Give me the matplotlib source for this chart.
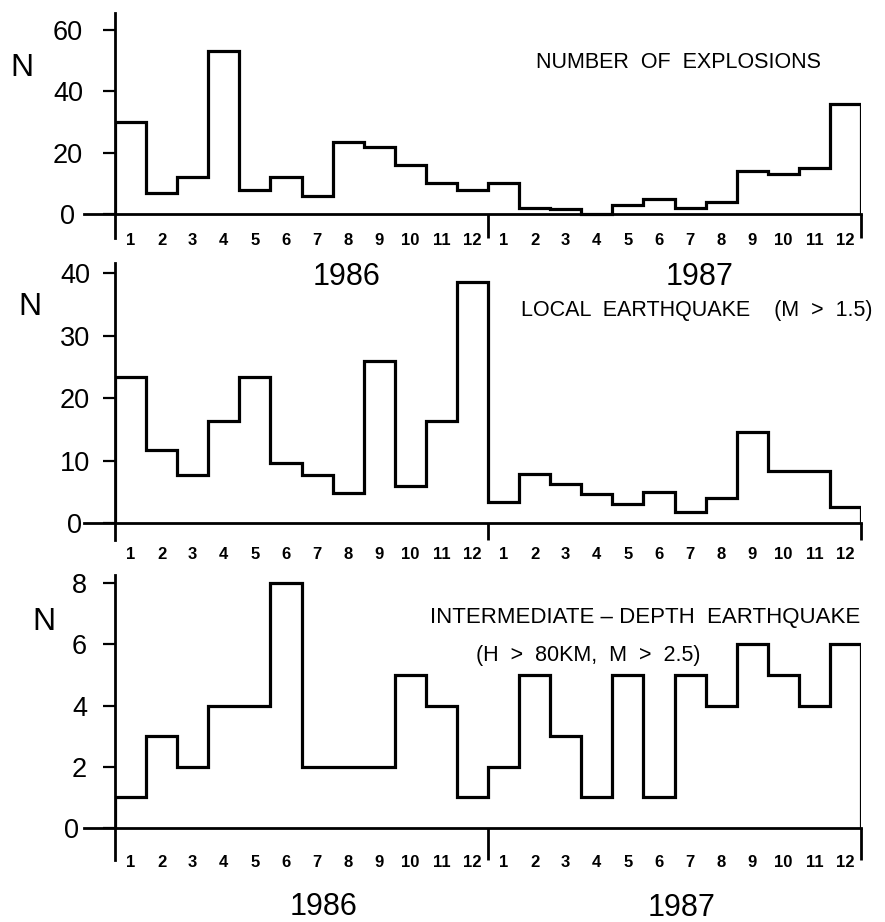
import numpy as np
import matplotlib
matplotlib.use("Agg")
import matplotlib.pyplot as plt
from matplotlib.transforms import ScaledTranslation

plt.rcParams['font.family'] = ['Liberation Sans', 'DejaVu Sans']

# data: monthly counts, Jan 1986 .. Dec 1987
month_labels = [str(m) for m in range(1, 13)] * 2
explosions = [30, 7, 12, 53, 8, 12, 6, 23.5, 22, 16, 10, 8,
              10, 2, 1.5, 0, 3, 5, 2, 4, 14, 13, 15, 36]
local_eq = [23.4, 11.7, 7.7, 16.3, 23.4, 9.6, 7.7, 4.8, 26, 5.9, 16.3, 38.6,
            3.3, 7.8, 6.3, 4.6, 3, 5, 1.7, 4, 14.6, 8.4, 8.3, 2.5]
deep_eq = [1, 3, 2, 4, 4, 8, 2, 2, 2, 5, 4, 1,
           2, 5, 3, 1, 5, 1, 5, 4, 6, 5, 4, 6]

W, H = 885, 922
fig = plt.figure(figsize=(W / 100, H / 100), dpi=100)

def px(x, y):
    return x / W, 1 - y / H

# panel settings (pixel layout)
panels = [
    dict(vals=explosions, top=13, bot=238, ylim=(-7.8, 65.5), yt=[0, 20, 40, 60],
         pad=14, lab_y=240, N=(22, 68)),
    dict(vals=local_eq, top=263, bot=540, ylim=(-2.72, 41.6), yt=[0, 10, 20, 30, 40],
         pad=9, lab_y=554, N=(30, 307)),
    dict(vals=deep_eq, top=575, bot=860, ylim=(-1.05, 8.27), yt=[0, 2, 4, 6, 8],
         pad=11, lab_y=862, N=(44, 622)),
]

x0, x1 = 115, 861
edges = np.arange(25)
centers = edges[:-1] + 0.5

for p in panels:
    ax = fig.add_axes([x0 / W, 1 - p['bot'] / H, (x1 - x0) / W, (p['bot'] - p['top']) / H])
    ax.set_xlim(0, 24)
    ax.set_ylim(*p['ylim'])
    for s in ['top', 'right', 'bottom']:
        ax.spines[s].set_visible(False)
    ax.spines['left'].set_linewidth(2)
    ax.patch.set_alpha(0)

    ax.stairs(p['vals'], edges, baseline=0, color='k', lw=2.3)
    ax.plot([-1, 24], [0, 0], color='k', lw=2, clip_on=False)
    ax.vlines([12, 24], p['ylim'][0], 0, color='k', lw=2, clip_on=False)

    ax.set_xticks([])
    ax.set_yticks(p['yt'])
    ax.tick_params(axis='y', length=9, width=1.6, labelsize=19.5, pad=p['pad'])
    zero = ax.get_yticklabels()[0]
    zero.set_transform(zero.get_transform() + ScaledTranslation(-0.08, 0, fig.dpi_scale_trans))

    frac = (p['bot'] - p['lab_y']) / (p['bot'] - p['top'])
    for c, lab in zip(centers, month_labels):
        ax.text(c, frac, lab, transform=ax.get_xaxis_transform(), ha='center',
                va='center', fontsize=12, fontweight='bold')

    fig.text(*px(*p['N']), 'N', fontsize=23, ha='center', va='center')

# year labels
for x, y, t in [(347, 277, '1986'), (700, 277, '1987'), (324, 907, '1986'), (682, 908, '1987')]:
    fig.text(*px(x, y), t, fontsize=22, ha='center', va='center')

fig.text(*px(679, 62), 'NUMBER  OF  EXPLOSIONS', fontsize=15.5, ha='center', va='center')
fig.text(*px(697, 310), 'LOCAL  EARTHQUAKE    (M  >  1.5)', fontsize=15.5, ha='center', va='center')
fig.text(*px(645, 617), 'INTERMEDIATE \u2013 DEPTH  EARTHQUAKE', fontsize=16, ha='center', va='center')
fig.text(*px(588, 655), '(H  >  80KM,  M  >  2.5)', fontsize=15.5, ha='center', va='center')

fig.savefig('out.png', dpi=100)
